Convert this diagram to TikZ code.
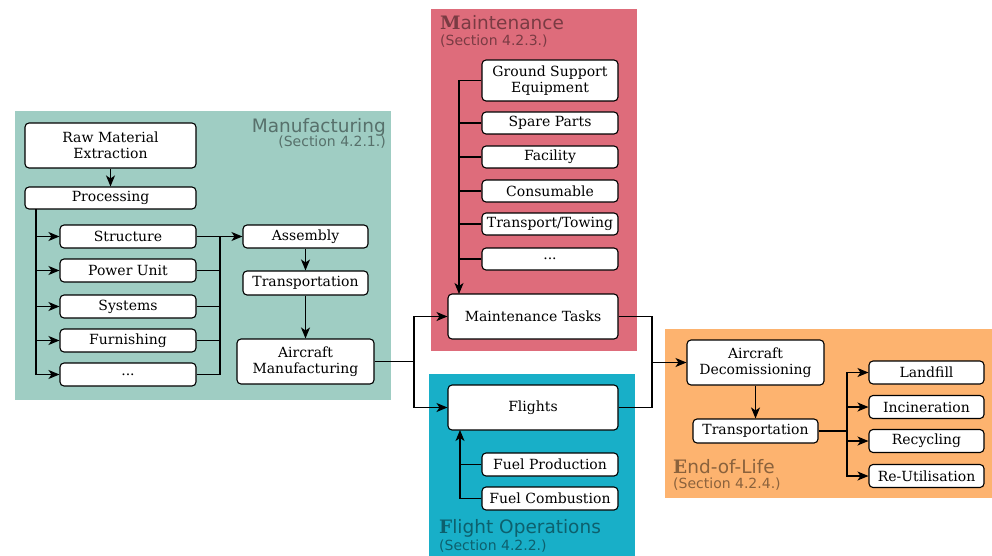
\documentclass[tikz,border=0pt]{standalone}
\usepackage{fontspec}
\setmainfont{DejaVu Serif}
\newfontfamily\labelfont{DejaVu Sans}
\usetikzlibrary{arrows.meta}

\definecolor{mfgcol}{RGB}{159,205,195}
\definecolor{mntcol}{RGB}{222,108,123}
\definecolor{fltcol}{RGB}{24,175,200}
\definecolor{eolcol}{RGB}{253,179,111}

\begin{document}
\begin{tikzpicture}[x=1pt,y=-1pt,
		box/.style={draw, fill=white, rounded corners=4pt, line width=1.1pt, inner sep=1pt,
			align=center, font=\fontsize{14}{15.5}\selectfont, minimum width=136pt, minimum height=23pt},
		bigbox/.style={box, minimum height=45pt},
		conn/.style={line width=1.1pt},
		arr/.style={conn, -{Stealth[length=11pt, width=9pt, inset=3pt]}},
		grouptitle/.style={inner sep=0, text opacity=0.45, font=\labelfont\fontsize{18.5}{18}\selectfont},
		groupsec/.style={inner sep=0, text opacity=0.45, font=\labelfont\fontsize{14}{14}\selectfont}]
	\useasboundingbox (0,0) rectangle (992,556);

	% group backgrounds
	\fill[mfgcol] (15,111) rectangle (391,400);
	\fill[mntcol] (431,9) rectangle (637,351);
	\fill[fltcol] (429,374) rectangle (635,556);
	\fill[eolcol] (665,329) rectangle (992,498);

	\node[grouptitle, anchor=base east] (mfgtitle) at (386,133) {Manufacturing};
	\node[groupsec, anchor=base east] (mfgsec) at (386,147) {(Section 4.2.1.)};
	\node[grouptitle, anchor=base west] (mnttitle) at (440,30) {{\rmfamily\bfseries M}aintenance};
	\node[groupsec, anchor=base west] (mntsec) at (440,46) {(Section 4.2.3.)};
	\node[grouptitle, anchor=base west] (flttitle) at (439,533) {{\rmfamily\bfseries F}light Operations};
	\node[groupsec, anchor=base west] (fltsec) at (439,550) {(Section 4.2.2.)};
	\node[grouptitle, anchor=base west] (eoltitle) at (673,473) {{\rmfamily\bfseries E}nd-of-Life};
	\node[groupsec, anchor=base west] (eolsec) at (673,488) {(Section 4.2.4.)};

	% manufacturing
	\node[bigbox, minimum width=171pt] (raw) at (110.5,145.5) {Raw Material\\Extraction};
	\node[box, minimum width=171pt, minimum height=22pt] (proc) at (110.5,198) {Processing};
	\node[box] (struct) at (128,236.5) {Structure};
	\node[box] (pow) at (128,270.5) {Power Unit};
	\node[box] (sys) at (128,306.5) {Systems};
	\node[box] (furn) at (128,340.5) {Furnishing};
	\node[box] (etcA) at (128,374.5) {...};
	\node[box, minimum width=125pt] (asm) at (305.5,236.5) {Assembly};
	\node[box, minimum width=125pt, minimum height=24pt] (transA) at (305.5,283) {Transportation};
	\node[bigbox, minimum width=137pt] (acman) at (305.5,361.5) {Aircraft\\Manufacturing};

	% maintenance
	\node[box, minimum height=41pt] (gse) at (550,80.5) {Ground Support\\Equipment};
	\node[box, minimum height=22pt] (spare) at (550,123) {Spare Parts};
	\node[box, minimum height=22pt] (fac) at (550,157) {Facility};
	\node[box, minimum height=22pt] (cons) at (550,191) {Consumable};
	\node[box, minimum height=22pt] (tow) at (550,224) {Transport/Towing};
	\node[box, minimum height=22pt] (etcB) at (550,259) {...};
	\node[bigbox, minimum width=170pt] (mtask) at (533,316.5) {Maintenance Tasks};

	% flight operations
	\node[bigbox, minimum width=170pt] (flights) at (533,407.5) {Flights};
	\node[box] (fprod) at (550,464.5) {Fuel Production};
	\node[box] (fcomb) at (550,498.5) {Fuel Combustion};

	% end-of-life
	\node[bigbox, minimum width=137pt] (decom) at (755.5,362.5) {Aircraft\\Decomissioning};
	\node[box, minimum width=125pt, minimum height=24pt] (transB) at (755.5,431) {Transportation};
	\node[box, minimum width=115pt] (land) at (926.5,372.5) {Landfill};
	\node[box, minimum width=115pt] (inc) at (926.5,407) {Incineration};
	\node[box, minimum width=115pt] (rec) at (926.5,441) {Recycling};
	\node[box, minimum width=115pt] (reu) at (926.5,476) {Re-Utilisation};

	\coordinate (pbus) at (36,209);
	\coordinate (abus) at (220,236.5);
	\coordinate (split) at (414,361.5);
	\coordinate (mbus) at (459,294);
	\coordinate (fbus) at (460,430);
	\coordinate (join) at (652,362.5);
	\coordinate (ebus) at (847,431);

	\draw[arr] (raw) -- (proc);
	\foreach \n in {struct,pow,sys,furn,etcA}
		\draw[arr] (pbus) |- (\n);
	\foreach \n in {pow,sys,furn,etcA}
		\draw[conn] (\n) -| (abus);
	\draw[arr] (struct) -- (asm);
	\draw[arr] (asm) -- (transA);
	\draw[arr] (transA) -- (acman);
	\draw[conn] (acman) -- (split);
	\draw[arr] (split) |- (mtask);
	\draw[arr] (split) |- (flights);

	\draw[arr] (gse.west) -| (mbus);
	\foreach \n in {spare,fac,cons,tow,etcB}
		\draw[conn] (\n.west) -- (\n.west -| mbus);
	\draw[arr] (fcomb.west) -| (fbus);
	\draw[conn] (fprod.west) -- (fprod.west -| fbus);

	\draw[conn] (mtask) -| (join);
	\draw[conn] (flights) -| (join);
	\draw[arr] (join) -- (decom);
	\draw[arr] (decom) -- (transB);
	\draw[conn] (transB) -- (ebus);
	\foreach \n in {land,inc,rec,reu}
		\draw[arr] (ebus) |- (\n);
\end{tikzpicture}
\end{document}
